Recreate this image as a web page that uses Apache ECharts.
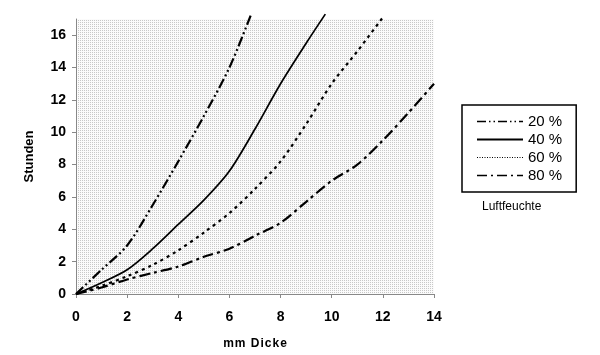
<!DOCTYPE html>
<html>
<head>
<meta charset="utf-8">
<script src="https://cdn.jsdelivr.net/npm/echarts@6/dist/echarts.min.js"></script>
<style>html,body{margin:0;padding:0;background:#fff;}#c{width:600px;height:355px;}</style>
</head>
<body>
<div id="c"></div>
<script>
var seriesNames = ['20 %', '40 %', '60 %', '80 %'];
var x20 = [0, 1, 2, 3, 4, 5, 6, 6.85];
var y20 = [0, 1.5, 3, 5.5, 8.2, 11, 14, 17.3];
var x40 = [0, 1, 2, 3, 4, 5, 6, 7, 8, 9, 9.75];
var y40 = [0, 0.7, 1.5, 2.8, 4.3, 5.8, 7.6, 10.2, 13.0, 15.5, 17.3];
var x60 = [0, 1, 2, 3, 4, 5, 6, 7, 8, 9, 10, 11, 12];
var y60 = [0, 0.5, 1.1, 1.8, 2.7, 3.8, 5, 6.5, 8.2, 10.5, 13, 15, 17.1];
var x80 = [0, 1, 2, 3, 4, 5, 6, 7, 8, 9, 10, 11, 12, 13, 14];
var y80 = [0, 0.4, 0.9, 1.3, 1.7, 2.3, 2.8, 3.6, 4.4, 5.7, 7, 8, 9.5, 11.2, 13];
var xTicks = [0, 2, 4, 6, 8, 10, 12, 14];
var yTicks = [0, 2, 4, 6, 8, 10, 12, 14, 16];

function pairs(xs, ys) { return xs.map(function (x, i) { return [x, ys[i]]; }); }

var pc = document.createElement('canvas');
pc.width = 2; pc.height = 2;
var pctx = pc.getContext('2d');
pctx.fillStyle = '#fbfbfb'; pctx.fillRect(0, 0, 2, 2);
pctx.fillStyle = '#c8c8c8'; pctx.fillRect(0, 0, 1, 1);

var dashes = [[10, 3, 2, 3, 2, 3], 'solid', [3, 4], [11, 4, 3, 4]];
var widths = [2.2, 1.7, 2.2, 2.2];
var legendDashes = [[9, 3, 1.5, 3, 1.5, 3], 'solid', [1, 1.5], [10, 4, 2, 4]];
var legendWidths = [1.3, 2, 1, 1.3];
var datas = [pairs(x20, y20), pairs(x40, y40), pairs(x60, y60), pairs(x80, y80)];
var hs = '\u200a';
var xName = 'mm Dicke'.split('').join(hs);

var chart = echarts.init(document.getElementById('c'), null, {renderer: 'canvas'});
chart.setOption({
  animation: false,
  backgroundColor: '#fff',
  grid: {left: 76, right: 166, top: 19, bottom: 61, show: true, borderWidth: 0,
    backgroundColor: {image: pc, repeat: 'repeat'}},
  legend: {
    orient: 'vertical', left: 462, top: 105, width: 117,
    padding: [9, 14, 9, 14], itemGap: 3, itemWidth: 46, itemHeight: 14,
    borderColor: '#000', borderWidth: 1.5,
    itemStyle: {opacity: 0},
    textStyle: {fontFamily: 'Liberation Sans', fontSize: 15, color: '#000'},
    data: seriesNames.map(function (n, i) {
      return {name: n, lineStyle: {type: legendDashes[i], width: legendWidths[i], color: '#000'}};
    })
  },
  xAxis: {
    type: 'value', min: 0, max: 14, interval: 2,
    name: xName, nameLocation: 'middle', nameGap: 44,
    nameTextStyle: {fontFamily: 'Liberation Sans', fontSize: 12, fontWeight: 'bold', color: '#000'},
    axisLine: {lineStyle: {color: '#888', width: 1}},
    axisTick: {show: true, length: 4, lineStyle: {color: '#888'}, customValues: xTicks},
    axisLabel: {fontFamily: 'Liberation Sans', fontSize: 14, fontWeight: 'bold', color: '#000', margin: 16, customValues: xTicks},
    splitLine: {show: false}
  },
  yAxis: {
    type: 'value', min: 0, max: 17, interval: 2,
    name: 'Stunden', nameLocation: 'middle', nameGap: 40, nameRotate: 90,
    nameTextStyle: {fontFamily: 'Liberation Sans', fontSize: 13, fontWeight: 'bold', color: '#000'},
    axisLine: {show: true, lineStyle: {color: '#888', width: 1}},
    axisTick: {show: true, length: 4, lineStyle: {color: '#888'}, customValues: yTicks},
    axisLabel: {fontFamily: 'Liberation Sans', fontSize: 14, fontWeight: 'bold', color: '#000', margin: 10, customValues: yTicks},
    splitLine: {show: false}
  },
  graphic: [{
    type: 'text', left: 482, top: 201,
    style: {text: 'Luftfeuchte', font: '12px "Liberation Sans"', fill: '#000'}
  }],
  series: seriesNames.map(function (n, i) {
    return {
      name: n, type: 'line', data: datas[i], smooth: 0.3, symbol: 'none', clip: false,
      lineStyle: {color: '#000', width: widths[i], type: dashes[i]},
      itemStyle: {color: '#000'}
    };
  })
});
</script>
</body>
</html>
